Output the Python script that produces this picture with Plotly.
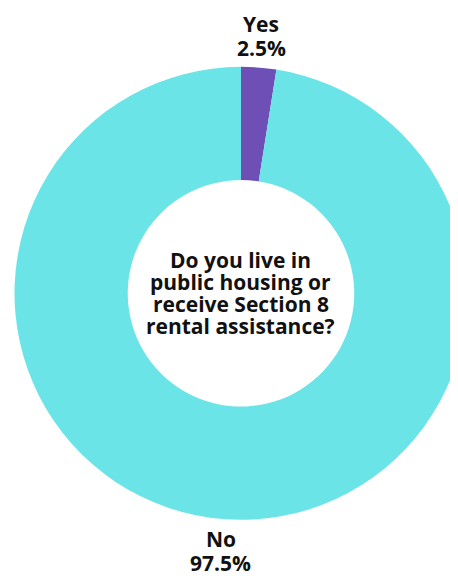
import math
import plotly.graph_objects as go

labels = ["Yes", "No"]
values = [2.5, 97.5]
colors = ["#6E4FB5", "#6BE4E8"]
center_lines = ["Do you live in", "public housing or", "receive Section 8", "rental assistance?"]

FONT = "Open Sans"
W, H = 462, 568
CX, CY, R = 233.0, 285.3, 226.5   # pie centre / radius in figure px (from top-left)

fig = go.Figure(go.Pie(
    labels=labels,
    values=values,
    hole=0.5,
    sort=False,
    direction="clockwise",
    rotation=0,
    marker=dict(colors=colors, line=dict(color="white", width=0)),
    textinfo="none",
    hoverinfo="label+percent",
    domain=dict(x=[(CX - R) / W, (CX + R) / W],
                y=[(H - CY - R) / H, (H - CY + R) / H]),
    showlegend=False,
))


def px(x, y):
    return x / W, 1 - y / H


annotations = []
# centre question, one line per annotation (tight line spacing)
gap = 21.9
n = len(center_lines)
for i, line in enumerate(center_lines):
    ax, ay = px(CX, CY + (i - (n - 1) / 2) * gap)
    annotations.append(dict(text=line, x=ax, y=ay, xref="paper", yref="paper",
                            xanchor="center", yanchor="middle", showarrow=False,
                            font=dict(family=FONT, size=21, color="#111111", weight="bold")))

# outside labels at each slice's mid-angle
total = sum(values)
cum = 0.0
R_LAB = 258.5
for lab, v in zip(labels, values):
    mid = (cum + v / 2) / total * 2 * math.pi
    cum += v
    bx = CX + R_LAB * math.sin(mid)
    by = CY - R_LAB * math.cos(mid)
    pct = f"{v / total * 100:.1f}%"
    for j, t in enumerate([lab, pct]):
        ax, ay = px(bx, by + (j - 0.5) * 24)
        annotations.append(dict(text=t, x=ax, y=ay, xref="paper", yref="paper",
                                xanchor="center", yanchor="middle", showarrow=False,
                                font=dict(family=FONT, size=21, color="#111111", weight="bold")))

fig.update_layout(
    width=W, height=H,
    margin=dict(l=0, r=0, t=0, b=0),
    paper_bgcolor="white",
    plot_bgcolor="white",
    annotations=annotations,
)
fig.write_html("out.html")
